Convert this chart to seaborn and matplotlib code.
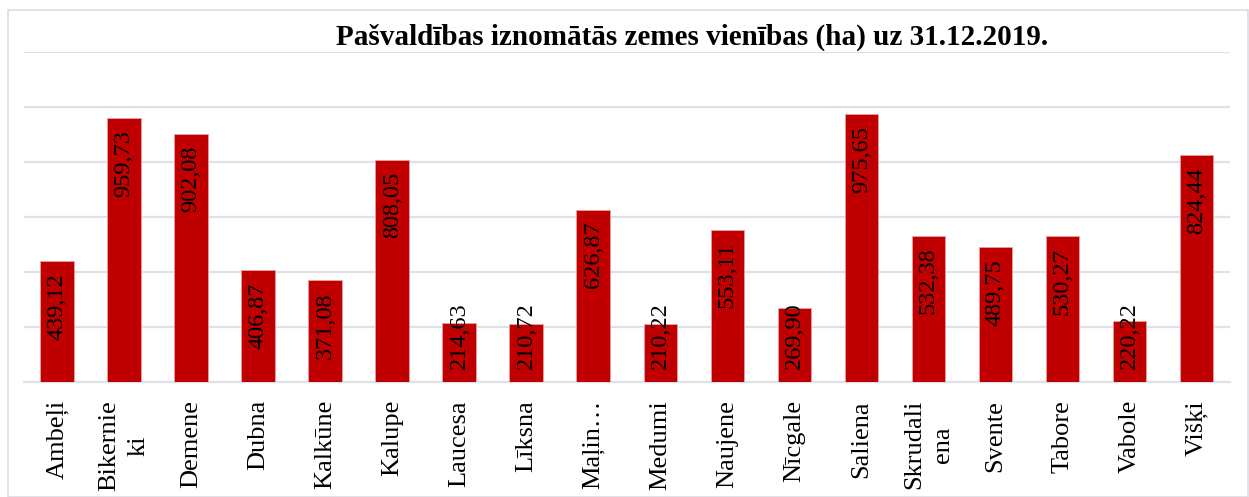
import matplotlib
matplotlib.use("Agg")
import matplotlib.pyplot as plt
import seaborn as sns
import pandas as pd
from matplotlib.patches import Rectangle

categories = ["Ambeļi", "Bikernieki", "Demene", "Dubna", "Kalkūne", "Kalupe", "Laucesa",
              "Līksna", "Maļinova", "Medumi", "Naujene", "Nīcgale", "Saliena", "Skrudaliena",
              "Svente", "Tabore", "Vabole", "Višķi"]
tick_labels = ["Ambeļi", "Bikernie\nki", "Demene", "Dubna", "Kalkūne", "Kalupe", "Laucesa",
               "Līksna", "Maļin…", "Medumi", "Naujene", "Nīcgale", "Saliena", "Skrudali\nena",
               "Svente", "Tabore", "Vabole", "Višķi"]
values = [439.12, 959.73, 902.08, 406.87, 371.08, 808.05, 214.63, 210.72, 626.87, 210.22,
          553.11, 269.90, 975.65, 532.38, 489.75, 530.27, 220.22, 824.44]
title = "Pašvaldības iznomātās zemes vienības (ha) uz 31.12.2019."

sns.set_theme(style="white")
plt.rcParams["font.family"] = ["Liberation Serif", "DejaVu Serif"]
plt.rcParams["text.color"] = "black"
plt.rcParams["xtick.color"] = "black"

W, H = 1249, 497
fig = plt.figure(figsize=(W / 100, H / 100), dpi=100)
ax = fig.add_axes([23.5 / W, (H - 382) / H, (1230 - 23.5) / W, (382 - 52) / H])

df = pd.DataFrame({"cat": categories, "val": values})
sns.barplot(data=df, x="cat", y="val", color="#C00000", saturation=1, width=0.5, ax=ax,
            edgecolor="#E8A0A0", linewidth=0.6, zorder=3)

ax.set_ylim(0, 1200)
ax.set_xlim(-0.5, len(categories) - 0.5)
ax.set_yticks(range(0, 1201, 200))
ax.yaxis.grid(True, color="#DDE1E8", linewidth=1.6, zorder=0)
ax.set_yticklabels([])
ax.tick_params(axis="y", length=0)
for s in ["top", "right", "left"]:
    ax.spines[s].set_visible(False)
ax.spines["bottom"].set_color("#DDE1E8")
ax.spines["bottom"].set_linewidth(1.6)
ax.set_xlabel("")
ax.set_ylabel("")
ax.set_xticks(range(len(categories)))
ax.set_xticklabels(tick_labels, rotation=90, fontsize=19, linespacing=1.4, va="top", ha="center",
                   color="black")
ax.tick_params(axis="x", length=0, pad=13)

# value labels: inside end, shifted up when bar is too short
for i, v in enumerate(values):
    label = f"{v:.2f}".replace(".", ",")
    top = max(v - 44, 291)
    ax.text(i, top, label, rotation=90, ha="center", va="top", fontsize=17.5, color="black", zorder=4)

fig.text(692 / W, 1 - 45 / H, title, ha="center", va="baseline", fontsize=21, fontweight="bold",
         color="black")

fig.patches.append(Rectangle((8 / W, 0), (W - 8) / W - 1 / W, 1 - 10 / H, transform=fig.transFigure,
                             fill=False, edgecolor="#D9DDE4", linewidth=1.2))

fig.savefig("out.png", dpi=100)
